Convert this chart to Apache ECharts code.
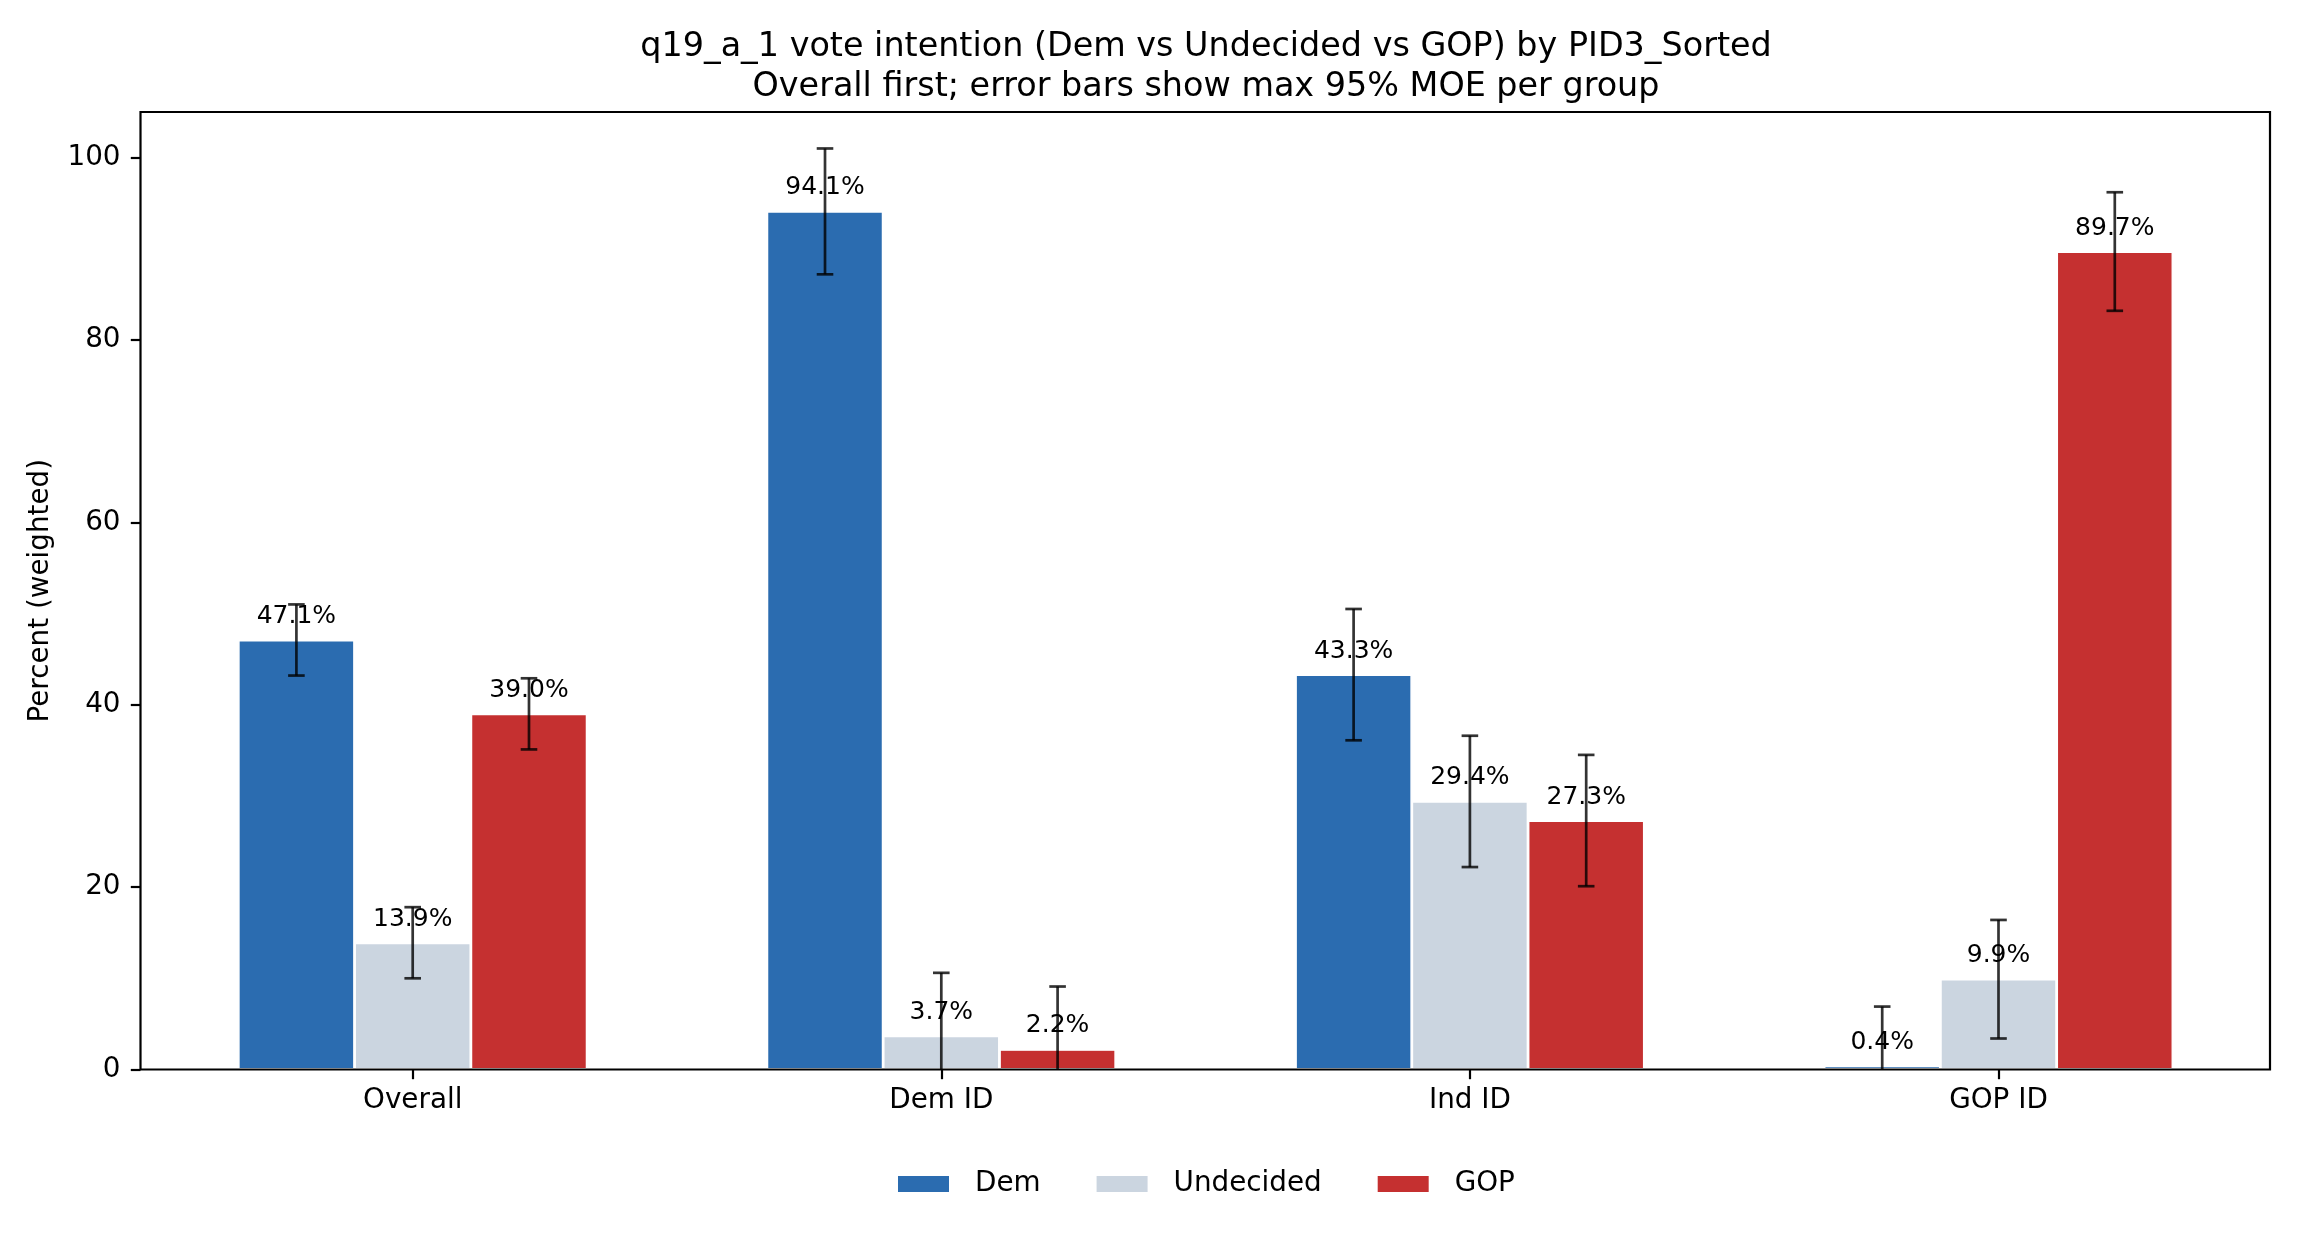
<!DOCTYPE html>
<html><head><meta charset="utf-8">
<script src="https://cdn.jsdelivr.net/npm/echarts@6/dist/echarts.min.js"></script>
<style>html,body{margin:0;padding:0;background:#fff}#c{width:2300px;height:1240px}</style>
</head><body><div id="c"></div>
<script>
// ---- data ----
const categories = ['Overall', 'Dem ID', 'Ind ID', 'GOP ID'];
const seriesNames = ['Dem', 'Undecided', 'GOP'];
const demValues = [47.1, 94.1, 43.3, 0.4];
const undecidedValues = [13.9, 3.7, 29.4, 9.9];
const gopValues = [39.0, 2.2, 27.3, 89.7];
const moeByGroup = [3.9, 6.9, 7.2, 6.5];
const yTicks = [0, 20, 40, 60, 80, 100];
const yMin = 0, yMax = 105;
const titleText = 'q19_a_1 vote intention (Dem vs Undecided vs GOP) by PID3_Sorted\nOverall first; error bars show max 95% MOE per group';
const yAxisTitle = 'Percent (weighted)';

// ---- style ----
const colors = ['#2b6cb0', '#cbd5e0', '#c53030'];
const FONT = 'DejaVu Sans';
const BAR_FRAC = 0.22;
const allValues = [demValues, undecidedValues, gopValues];

const chart = echarts.init(document.getElementById('c'), null, {renderer: 'canvas'});

const barSeries = seriesNames.map((name, k) => ({
  name, type: 'bar', xAxisIndex: 0, yAxisIndex: 0,
  data: allValues[k],
  barWidth: (BAR_FRAC * 100) + '%', barGap: '0%',
  itemStyle: {color: colors[k], borderColor: '#ffffff', borderWidth: 1.4},
  label: {show: true, position: 'top', distance: 11, color: '#000', fontFamily: FONT, fontSize: 25,
    formatter: p => p.value.toFixed(1) + '%'},
  emphasis: {disabled: true}, z: 2
}));

const errData = [];
allValues.forEach((vals, k) => vals.forEach((v, i) => errData.push([i, v - moeByGroup[i], v + moeByGroup[i], k])));

const errSeries = {
  type: 'custom', xAxisIndex: 0, yAxisIndex: 0, z: 5,
  data: errData, encode: {x: 0, y: [1, 2]},
  renderItem(params, api) {
    const cat = api.value(0), lo = api.value(1), hi = api.value(2), k = api.value(3);
    const band = api.size([1, 0])[0];
    const off = (k - 1) * band * BAR_FRAC;
    const pHi = api.coord([cat, hi]);
    const pLo = api.coord([cat, Math.max(lo, yMin)]);
    const x = pHi[0] + off;
    const cap = 8.3;
    const st = {stroke: 'rgba(0,0,0,0.8)', lineWidth: 2.7};
    const ch = [
      {type: 'line', shape: {x1: x, y1: pLo[1], x2: x, y2: pHi[1]}, style: st},
      {type: 'line', shape: {x1: x - cap, y1: pHi[1], x2: x + cap, y2: pHi[1]}, style: st}
    ];
    if (lo >= yMin) ch.push({type: 'line', shape: {x1: x - cap, y1: pLo[1], x2: x + cap, y2: pLo[1]}, style: st});
    return {type: 'group', children: ch};
  },
  silent: true
};

const option = {
  backgroundColor: '#ffffff',
  animation: false,
  textStyle: {fontFamily: FONT},
  title: {
    text: titleText, left: 1206, top: 27, padding: 0, textAlign: 'center',
    textStyle: {fontFamily: FONT, fontSize: 33.4, fontWeight: 'normal', color: '#000', lineHeight: 40}
  },
  legend: {
    data: seriesNames, left: 891, top: 1165, itemWidth: 53, itemHeight: 18, itemGap: 54,
    icon: 'rect',
    textStyle: {fontFamily: FONT, fontSize: 27.8, color: '#000', padding: [0, 0, 0, 20]}
  },
  grid: [
    {left: 148.4, right: 37.2, top: 112, bottom: 170.5, containLabel: false},
    {left: 140.5, right: 30, top: 112, bottom: 170.5, containLabel: false, show: true,
      borderColor: '#000', borderWidth: 2.2, backgroundColor: 'transparent', z: 10}
  ],
  xAxis: [
    {type: 'category', gridIndex: 0, data: categories, boundaryGap: true,
      axisLine: {show: false},
      axisTick: {show: true, alignWithLabel: true, length: 9.7, lineStyle: {color: '#000', width: 2.2}},
      axisLabel: {color: '#000', fontFamily: FONT, fontSize: 27.8, margin: 17}},
    {type: 'value', gridIndex: 1, min: 0, max: 1, show: false}
  ],
  yAxis: [
    {type: 'value', gridIndex: 0, min: yMin, max: yMax, show: false, splitLine: {show: false}},
    {type: 'value', gridIndex: 1, min: yMin, max: yMax, interval: 20,
      name: yAxisTitle, nameLocation: 'middle', nameGap: 86,
      nameTextStyle: {fontFamily: FONT, fontSize: 27.8, color: '#000'},
      axisLine: {show: false}, splitLine: {show: false},
      axisTick: {show: true, length: 9.7, lineStyle: {color: '#000', width: 2.2}, customValues: yTicks},
      axisLabel: {color: '#000', fontFamily: FONT, fontSize: 27.8, margin: 20, customValues: yTicks}}
  ],
  series: [...barSeries, errSeries]
};
chart.setOption(option);
</script></body></html>
